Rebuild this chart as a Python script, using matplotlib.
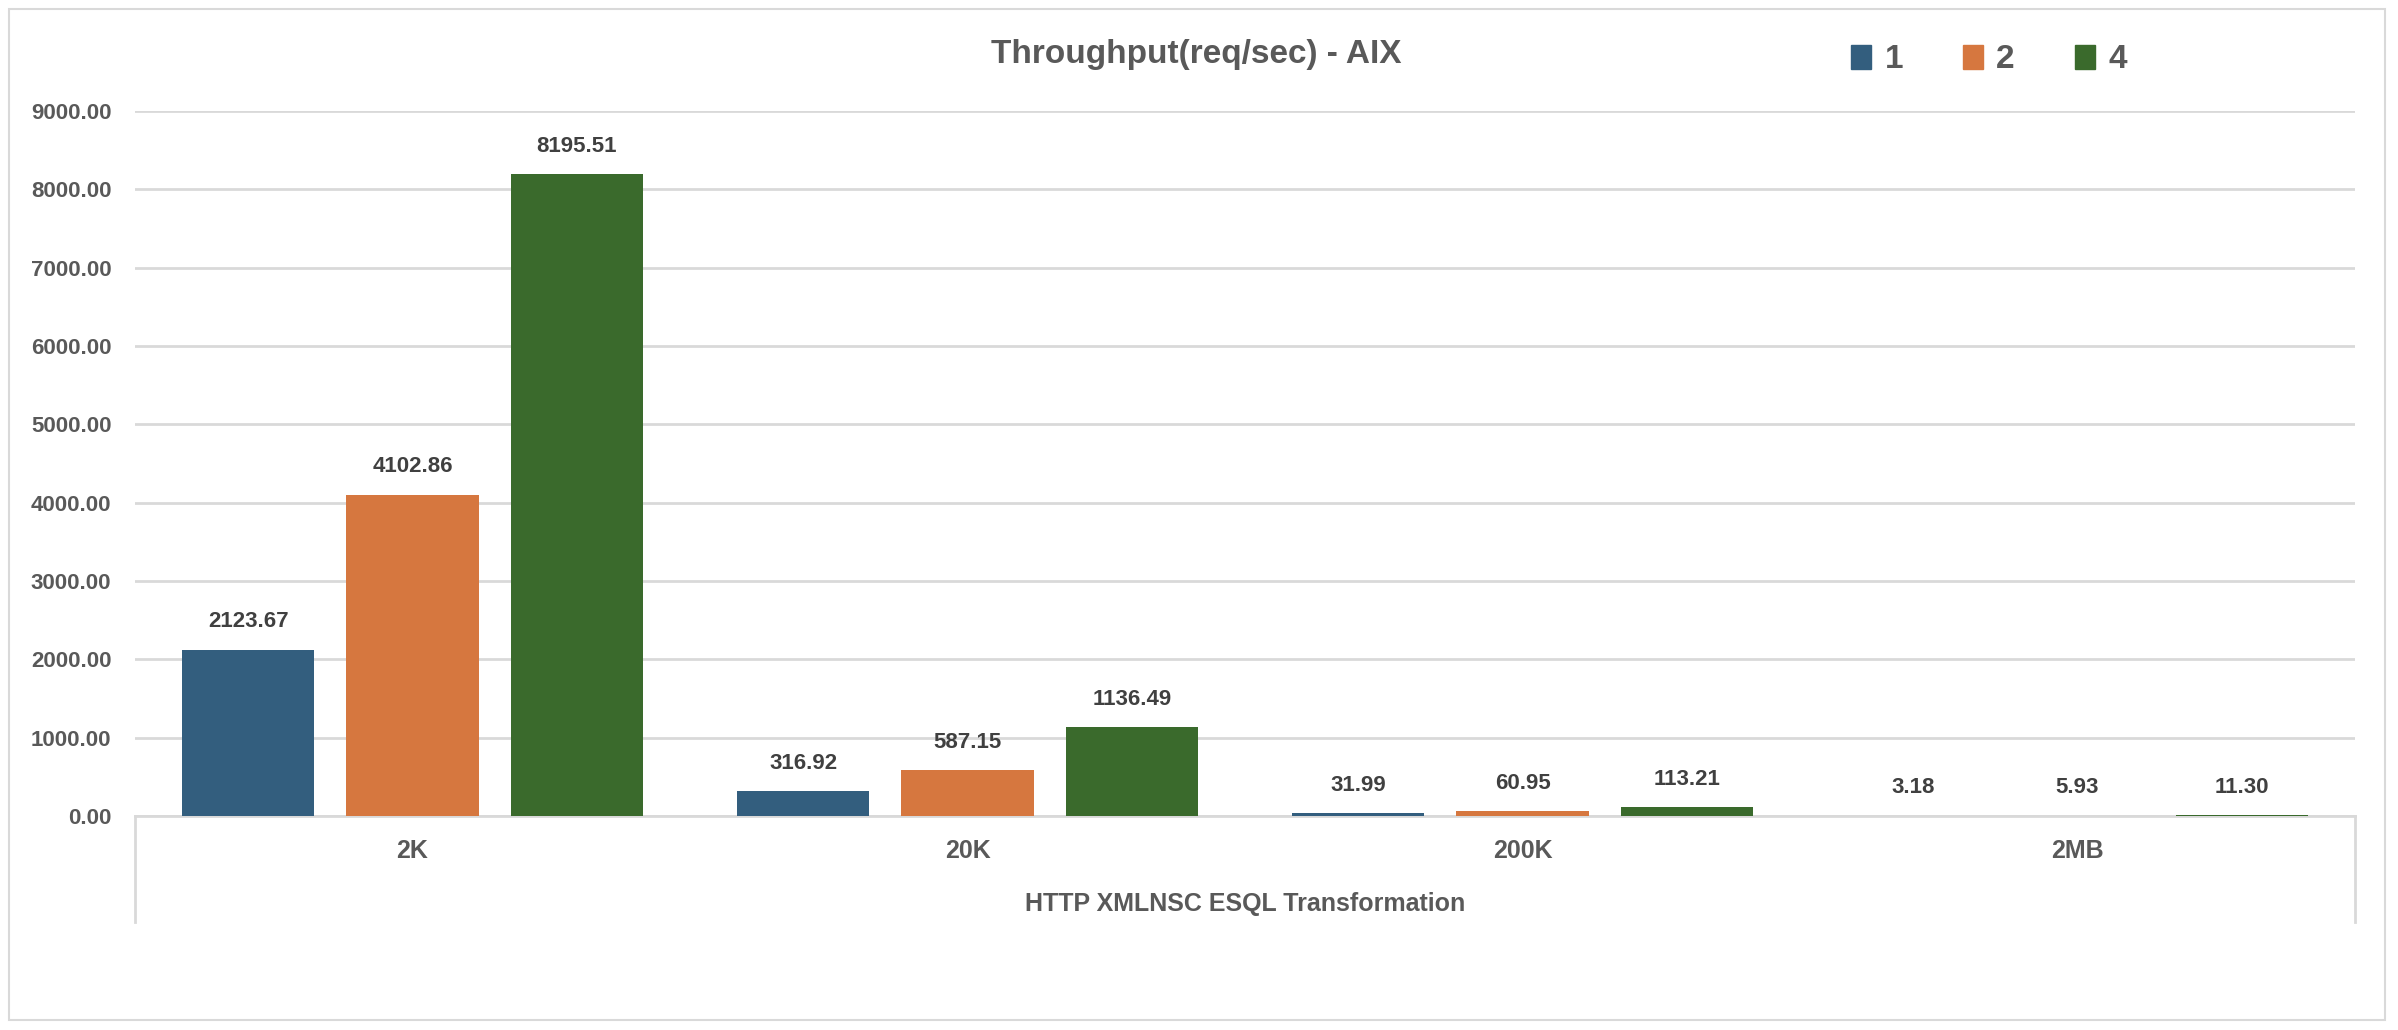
import matplotlib.pyplot as plt
import numpy as np
from matplotlib.patches import Patch, Rectangle
from matplotlib.lines import Line2D

plt.rcParams['font.family'] = ['Liberation Sans Narrow', 'Liberation Sans', 'DejaVu Sans']

categories = ["2K", "20K", "200K", "2MB"]
series_names = ["1", "2", "4"]
vals_1 = [2123.67, 316.92, 31.99, 3.18]
vals_2 = [4102.86, 587.15, 60.95, 5.93]
vals_4 = [8195.51, 1136.49, 113.21, 11.30]
y_ticks = [0, 1000, 2000, 3000, 4000, 5000, 6000, 7000, 8000, 9000]

title = "Throughput(req/sec) - AIX"
axis_title = "HTTP XMLNSC ESQL Transformation"

colors = ["#335E7E", "#D6773F", "#3A6A2C"]
grid_col = "#D9D9D9"
tick_col = "#595959"
label_col = "#404040"

W, H = 2398, 1030
fig = plt.figure(figsize=(W / 100, H / 100), dpi=100)

# chart border
fig.add_artist(Rectangle((9 / W, 1 - 1020 / H), (2385 - 9) / W, (1020 - 9) / H,
                         transform=fig.transFigure, fill=False,
                         edgecolor=grid_col, linewidth=1.5))

ax_l, ax_r = 135 / W, 2355 / W
ax_b, ax_t = 1 - 816 / H, 1 - 111 / H
ax = fig.add_axes([ax_l, ax_b, ax_r - ax_l, ax_t - ax_b])

x = np.arange(len(categories))
bw = 0.238
step = 0.296
for i, (vals, c) in enumerate(zip([vals_1, vals_2, vals_4], colors)):
    pos = x + (i - 1) * step
    ax.bar(pos, vals, width=bw, color=c, zorder=3)
    for px, v in zip(pos, vals):
        ax.annotate(f"{v:.2f}", (px, v), xytext=(0, 20), textcoords="offset points",
                    ha="center", va="center", fontsize=16, fontweight="bold",
                    color=label_col)

ax.set_xlim(-0.5, len(categories) - 0.5)
ax.set_ylim(0, 9000)
ax.set_yticks(y_ticks)
ax.set_yticklabels([f"{t:.2f}" for t in y_ticks], fontsize=16, fontweight="bold",
                   color=tick_col)
ax.tick_params(axis="y", length=0, pad=17)
ax.set_xticks([])
ax.grid(axis="y", color=grid_col, linewidth=2, zorder=0)
for s in ["top", "right", "left"]:
    ax.spines[s].set_visible(False)
ax.spines["bottom"].set_color(grid_col)
ax.spines["bottom"].set_linewidth(2)

# category labels and axis title
trans = ax.get_xaxis_transform()
for xi, cat in zip(x, categories):
    ax.text(xi, -35 / 705, cat, transform=trans, ha="center", va="center",
            fontsize=18, fontweight="bold", color=tick_col)
ax.text(0.5, -88 / 705, axis_title, transform=ax.transAxes, ha="center", va="center",
        fontsize=18, fontweight="bold", color=tick_col)

# box lines of the category axis
for xe in [ax_l, ax_r]:
    fig.add_artist(Line2D([xe, xe], [ax_b, 1 - 922 / H], transform=fig.transFigure,
                          color=grid_col, linewidth=2))

fig.text(0.499, 1 - 55 / H, title, ha="center", va="center", fontsize=24,
         fontweight="bold", color=tick_col)

handles = [Patch(facecolor=c, edgecolor=c) for c in colors]
fig.legend(handles, series_names, loc="center", bbox_to_anchor=(1989 / W, 1 - 60 / H),
           ncol=3, frameon=False, handlelength=0.6, handleheight=0.7,
           handletextpad=0.4, columnspacing=1.8,
           prop={"size": 24, "weight": "bold"}, labelcolor=tick_col)

fig.savefig("out.png", dpi=100)
